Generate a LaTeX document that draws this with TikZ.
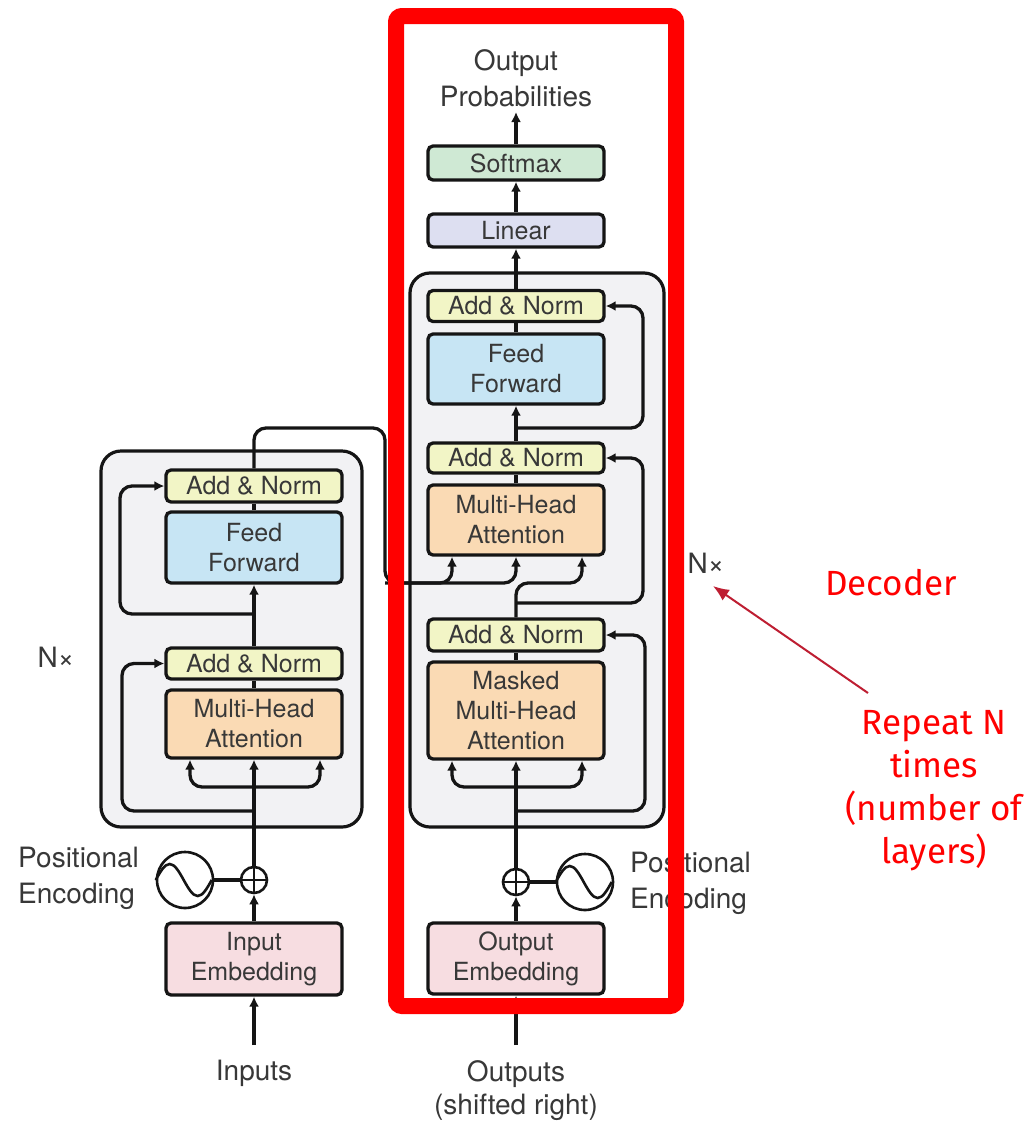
\documentclass[tikz,border=0pt]{standalone}
\usepackage{fontspec}
\setmainfont{TeX Gyre Heros}
\newfontfamily\annotfont{Fira Sans}
\usetikzlibrary{arrows.meta}

\definecolor{blockbg}{HTML}{F2F2F4}
\definecolor{addnorm}{HTML}{F2F5C6}
\definecolor{ffblue}{HTML}{C7E5F4}
\definecolor{attn}{HTML}{FADAB4}
\definecolor{embed}{HTML}{F7DDE1}
\definecolor{softgreen}{HTML}{CFE9D4}
\definecolor{linblue}{HTML}{DDDFF1}
\definecolor{inkgrey}{HTML}{383838}
\definecolor{wireblack}{HTML}{151515}
\definecolor{annotred}{HTML}{FF0000}
\definecolor{pointerred}{HTML}{BE1E32}

\begin{document}
\begin{tikzpicture}[x=1pt,y=-1pt,
  box/.style={draw=wireblack, line width=3.3pt, rounded corners=5pt,
    minimum width=176pt, inner sep=0pt, align=center, text=inkgrey,
    font=\fontsize{25}{30}\selectfont},
  block/.style={draw=wireblack, line width=3.2pt, rounded corners=20pt,
    fill=blockbg, inner sep=0pt},
  wire/.style={line width=3.3pt, draw=wireblack, rounded corners=12pt},
  arr/.style={wire, -{Latex[length=10pt,width=10pt]}},
  lbl/.style={text=inkgrey, font=\fontsize{28}{36}\selectfont, align=center,
    inner sep=0pt},
  plusnode/.style={circle, draw=wireblack, line width=2.6pt, fill=white,
    minimum size=26pt, inner sep=0pt},
  sinenode/.style={circle, draw=wireblack, line width=2.6pt, fill=white,
    minimum size=56pt, inner sep=0pt},
  note/.style={text=annotred, font=\annotfont\fontsize{35}{43}\selectfont,
    align=center, inner sep=0pt},
  pointer/.style={draw=pointerred, line width=2pt,
    -{Latex[length=16pt,width=13pt]}},
]
\fill[white] (0,0) rectangle (1028,1128);
\useasboundingbox (0,0) rectangle (1028,1128);

% ---------- layer stacks ----------
\node[block, minimum width=261pt, minimum height=376pt] (encblock) at (231.5,639) {};
\node[block, minimum width=254pt, minimum height=554pt] (decblock) at (537,550) {};

% ---------- encoder boxes ----------
\node[box, fill=addnorm, minimum height=32pt] (ean2) at (254,486) {Add \& Norm};
\node[box, fill=ffblue, minimum height=71pt] (eff) at (254,547.5) {Feed\\Forward};
\node[box, fill=addnorm, minimum height=31pt] (ean1) at (254,663.5) {Add \& Norm};
\node[box, fill=attn, minimum height=68pt] (emha) at (254,724) {Multi-Head\\Attention};
\node[box, fill=embed, minimum height=72pt] (inemb) at (254,959) {Input\\Embedding};
\node[plusnode] (eplus) at (254,880) {};
\node[sinenode] (esine) at (185,880) {};

% ---------- decoder boxes ----------
\node[box, fill=softgreen, minimum height=34pt] (soft) at (516,163) {Softmax};
\node[box, fill=linblue, minimum height=33pt] (lin) at (516,230.5) {Linear};
\node[box, fill=addnorm, minimum height=31pt] (dan3) at (516,306) {Add \& Norm};
\node[box, fill=ffblue, minimum height=70pt] (dff) at (516,369) {Feed\\Forward};
\node[box, fill=addnorm, minimum height=30pt] (dan2) at (516,458) {Add \& Norm};
\node[box, fill=attn, minimum height=70pt] (dmha) at (516,520) {Multi-Head\\Attention};
\node[box, fill=addnorm, minimum height=32pt] (dan1) at (516,635) {Add \& Norm};
\node[box, fill=attn, minimum height=97pt] (dmmha) at (516,710.5) {Masked\\Multi-Head\\Attention};
\node[box, fill=embed, minimum height=71pt] (oemb) at (516,958.5) {Output\\Embedding};
\node[plusnode] (dplus) at (516,882) {};
\node[sinenode] (dsine) at (585,882) {};

% ---------- adder crosses and sine waves ----------
\foreach \p in {eplus,dplus}{
  \draw[line width=2.4pt, wireblack] (\p.north) -- (\p.south) (\p.west) -- (\p.east);
}
\foreach \s in {esine,dsine}{
  \draw[line width=2.6pt, wireblack] (\s.west) sin ++(14,-16) cos ++(14,16)
    sin ++(14,16) cos ++(14,-16);
}

% ---------- encoder wiring ----------
\coordinate (inStart) at (254,1045);
\draw[arr] (inStart) -- (inemb.south);
\draw[arr] (inemb.north) -- (eplus.south);
\draw[wire] (eplus.west) -- (esine.east);
\draw[arr] (eplus.north) -- (emha.south);
\coordinate (ebranch) at (254,787);
\draw[arr] (ebranch) -| ([xshift=-64pt]emha.south);
\draw[arr] (ebranch) -| ([xshift=66pt]emha.south);
\coordinate (eres1) at (254,811);
\coordinate (eres1c) at (122,811);
\draw[arr] (eres1) -- (eres1c) |- (ean1.west);
\draw[wire] (emha.north) -- (ean1.south);
\draw[arr] (ean1.north) -- (eff.south);
\coordinate (eres2) at (254,614);
\coordinate (eres2c) at (120,614);
\draw[arr] (eres2) -- (eres2c) |- (ean2.west);
\draw[wire] (eff.north) -- (ean2.south);

% encoder output into the decoder cross-attention
\coordinate (eo1) at (254,428);
\coordinate (eo2) at (385,428);
\coordinate (eo3) at (385,583);
\draw[arr] (ean2.north) -- (eo1) -- (eo2) -- (eo3) -| ([xshift=-64pt]dmha.south);
\draw[arr] (eo3) -| (dmha.south);

% ---------- decoder wiring ----------
\coordinate (outStart) at (516,1045);
\draw[arr] (outStart) -- (oemb.south);
\draw[arr] (oemb.north) -- (dplus.south);
\draw[wire] (dplus.east) -- (dsine.west);
\draw[arr] (dplus.north) -- (dmmha.south);
\coordinate (dbranch) at (516,787);
\draw[arr] (dbranch) -| ([xshift=-64pt]dmmha.south);
\draw[arr] (dbranch) -| ([xshift=66pt]dmmha.south);
\coordinate (dres1) at (516,811);
\coordinate (dres1c) at (645,811);
\draw[arr] (dres1) -- (dres1c) |- (dan1.east);
\draw[wire] (dmmha.north) -- (dan1.south);
\coordinate (qcorner) at (516,583);
\draw[arr] (dan1.north) -- (qcorner) -| ([xshift=66pt]dmha.south);
\coordinate (dres2) at (516,603);
\coordinate (dres2c) at (643,603);
\draw[arr] (dres2) -- (dres2c) |- (dan2.east);
\draw[wire] (dmha.north) -- (dan2.south);
\draw[arr] (dan2.north) -- (dff.south);
\coordinate (dres3) at (516,428);
\coordinate (dres3c) at (643,428);
\draw[arr] (dres3) -- (dres3c) |- (dan3.east);
\draw[wire] (dff.north) -- (dan3.south);
\draw[arr] (dan3.north) -- (lin.south);
\draw[arr] (lin.north) -- (soft.south);
\coordinate (probTip) at (516,112);
\draw[arr] (soft.north) -- (probTip);

% ---------- labels ----------
\node[lbl] (outprob) at (516,78) {Output\\Probabilities};
\node[lbl] (inputs) at (254,1073) {Inputs};
\node[lbl, font=\fontsize{28}{33}\selectfont] (outputs) at (516,1091) {Outputs\\(shifted right)};
\node[lbl, align=left, anchor=west] (epos) at (18,878) {Positional\\Encoding};
\node[lbl, align=left, anchor=west] (dpos) at (630,883) {Positional\\Encoding};
\node[lbl] (encN) at (56,657) {N×};
\node[lbl] (decN) at (706,563) {N×};

% ---------- decoder highlight and notes ----------
\node[draw=annotred, line width=16pt, rounded corners=6pt, inner sep=0pt,
  minimum width=280pt, minimum height=990pt] (decframe) at (536,511) {};
\node[note] (decLabel) at (891,583) {Decoder};
\node[note] (repeatNote) at (934,791) {Repeat N\\times\\(number of\\layers)};
\coordinate (ptrStart) at (868,693);
\coordinate (ptrEnd) at (713,586);
\draw[pointer] (ptrStart) -- (ptrEnd);
\end{tikzpicture}
\end{document}
